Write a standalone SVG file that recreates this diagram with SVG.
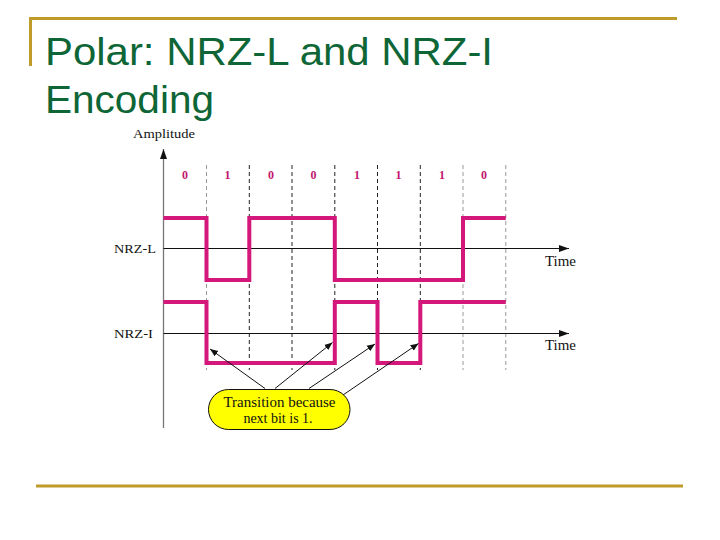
<svg xmlns="http://www.w3.org/2000/svg" width="720" height="540" viewBox="0 0 720 540">
<style>
.gold{stroke:#bf9b2c;stroke-width:3;fill:none}
.title{font-family:"Liberation Sans",Arial,sans-serif;font-size:38px;fill:#0e6636}
.serif{font-family:"Liberation Serif","Times New Roman",serif;fill:#111}
.bit{font-family:"Liberation Serif","Times New Roman",serif;font-weight:bold;font-size:12px;fill:#c2176f;text-anchor:middle}
.dash{stroke:#222;stroke-width:1;stroke-dasharray:4 3;fill:none}
.dashg{stroke:#999;stroke-width:1;stroke-dasharray:4 3;fill:none}
.sig{stroke:#d4177a;stroke-width:4;fill:none;stroke-linejoin:miter}
.axis{stroke:#111;stroke-width:1;fill:none}
.ptr{stroke:#111;stroke-width:1;fill:none;marker-end:url(#ah)}
</style>
<defs>
<marker id="ah" viewBox="0 0 10 10" refX="10" refY="5" markerWidth="8" markerHeight="8" markerUnits="userSpaceOnUse" orient="auto">
<path d="M0,1 L10,5 L0,9 Z" fill="#111"/>
</marker>
<marker id="axh" viewBox="0 0 10 10" refX="10" refY="5" markerWidth="12" markerHeight="10" markerUnits="userSpaceOnUse" orient="auto">
<path d="M0,1.5 L10,5 L0,8.5 Z" fill="#111"/>
</marker>
</defs>
<g id="frame">
<line class="gold" x1="29" y1="18.5" x2="677" y2="18.5"/>
<line class="gold" x1="30.5" y1="17" x2="30.5" y2="66"/>
<line class="gold" x1="36" y1="486" x2="683" y2="486"/>
</g>
<g id="title">
<text class="title" x="45" y="65" textLength="448" lengthAdjust="spacingAndGlyphs">Polar: NRZ-L and NRZ-I</text>
<text class="title" x="45" y="113" textLength="169" lengthAdjust="spacingAndGlyphs">Encoding</text>
</g>
<g id="grid">
<line class="dashg" x1="206.5" y1="165" x2="206.5" y2="370"/>
<line class="dash" x1="249.3" y1="165" x2="249.3" y2="370"/>
<line class="dash" x1="292" y1="165" x2="292" y2="370"/>
<line class="dash" x1="334.8" y1="165" x2="334.8" y2="370"/>
<line class="dash" x1="377.5" y1="165" x2="377.5" y2="370"/>
<line class="dash" x1="420.3" y1="165" x2="420.3" y2="370"/>
<line class="dashg" x1="463" y1="165" x2="463" y2="370"/>
<line class="dashg" x1="505.8" y1="165" x2="505.8" y2="370"/>
</g>
<g id="axes">
<line x1="163.5" y1="428" x2="163.5" y2="149" stroke="#777" stroke-width="1.3" marker-end="url(#axh)"/>
<text class="serif" x="133" y="138" font-size="12" textLength="62" lengthAdjust="spacingAndGlyphs">Amplitude</text>
<line class="axis" x1="163.5" y1="248.5" x2="569" y2="248.5" marker-end="url(#axh)"/>
<line class="axis" x1="163.5" y1="333.5" x2="569" y2="333.5" marker-end="url(#axh)"/>
<text class="serif" x="545" y="266" font-size="14" textLength="31" lengthAdjust="spacingAndGlyphs">Time</text>
<text class="serif" x="545" y="350" font-size="14" textLength="31" lengthAdjust="spacingAndGlyphs">Time</text>
</g>
<g id="bits">
<text class="bit" x="185" y="179">0</text>
<text class="bit" x="227.5" y="179">1</text>
<text class="bit" x="271" y="179">0</text>
<text class="bit" x="313.5" y="179">0</text>
<text class="bit" x="357" y="179">1</text>
<text class="bit" x="398.5" y="179">1</text>
<text class="bit" x="442" y="179">1</text>
<text class="bit" x="484" y="179">0</text>
</g>
<g id="nrz-l">
<text class="serif" x="114" y="253" font-size="13" textLength="42" lengthAdjust="spacingAndGlyphs">NRZ-L</text>
<polyline class="sig" points="163.5,218 206.5,218 206.5,280 249.3,280 249.3,218 334.8,218 334.8,280 463,280 463,218 505.8,218"/>
</g>
<g id="nrz-i">
<text class="serif" x="114" y="338" font-size="13" textLength="39" lengthAdjust="spacingAndGlyphs">NRZ-I</text>
<polyline class="sig" points="163.5,302 206.5,302 206.5,363 334.8,363 334.8,302 377.5,302 377.5,363 420.3,363 420.3,302 505.8,302"/>
</g>
<g id="connectors">
<line class="ptr" x1="265" y1="388.5" x2="210" y2="349"/>
<line class="ptr" x1="275" y1="388.5" x2="332.5" y2="342.5"/>
<line class="ptr" x1="309" y1="388.5" x2="375" y2="344"/>
<line class="ptr" x1="343" y1="395" x2="418.5" y2="343.5"/>
</g>
<g id="callout">
<rect x="208.5" y="389.5" width="141.5" height="40" rx="20" ry="20" fill="#ffff00" stroke="#111" stroke-width="1"/>
<text class="serif" x="279.5" y="406.5" font-size="14" text-anchor="middle" textLength="112" lengthAdjust="spacingAndGlyphs">Transition because</text>
<text class="serif" x="278" y="422.5" font-size="14" text-anchor="middle">next bit is 1.</text>
</g>
</svg>
